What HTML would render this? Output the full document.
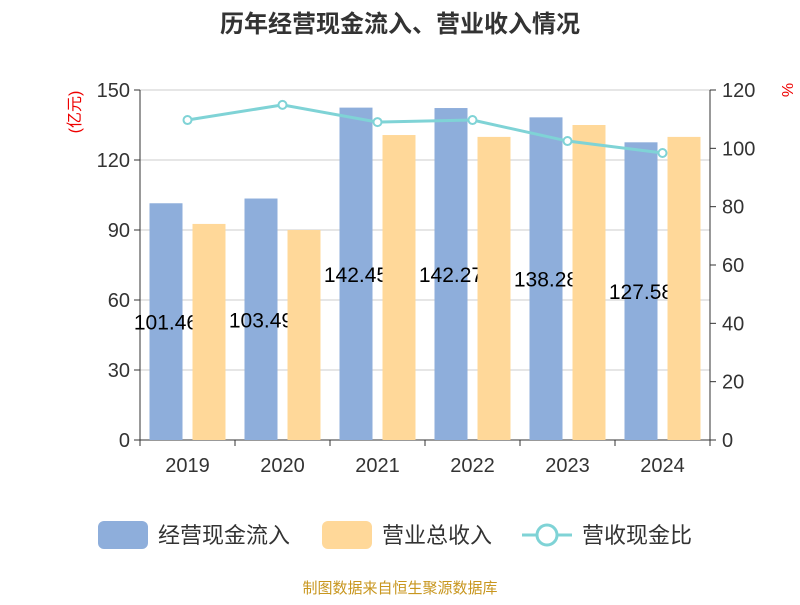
<!DOCTYPE html>
<html><head><meta charset="utf-8"><style>
body{margin:0;background:#fff;}
svg{font-family:"Liberation Sans","Noto Sans CJK SC",sans-serif;}
</style></head><body>
<svg id="chart" width="800" height="600"></svg>
<script>
const categories=["2019","2020","2021","2022","2023","2024"];
const cashIn=[101.46,103.49,142.45,142.27,138.28,127.58];
const revenue=[92.6,90.0,130.7,129.9,135.0,129.9];
const ratio=[109.7,114.9,109.0,109.7,102.5,98.4];
const leftTicks=[0,30,60,90,120,150];
const rightTicks=[0,20,40,60,80,100,120];
const NS="http://www.w3.org/2000/svg";
const svg=document.getElementById('chart');
const L=140,R=710,T=90,B=440;
const yL=v=>B-(v/150)*(B-T);
const yR=v=>B-(v/120)*(B-T);
const band=(R-L)/categories.length;
const xC=i=>L+band*(i+0.5);
function mk(tag,attrs,text){const e=document.createElementNS(NS,tag);for(const k in attrs)e.setAttribute(k,attrs[k]);if(text!==undefined)e.textContent=text;svg.appendChild(e);return e;}
let e;
e=mk('text',{x:400,y:32,'text-anchor':'middle','font-size':24,'font-weight':'bold',fill:'#333'},'历年经营现金流入、营业收入情况');


leftTicks.forEach(t=>{
 e=mk('line',{x1:L,x2:R,y1:yL(t),y2:yL(t),stroke:t===0?'#333':'#ccc','stroke-width':1});
 
 
 e=mk('line',{x1:L-6,x2:L,y1:yL(t),y2:yL(t),stroke:'#333'});
 
 
 e=mk('text',{x:L-10,y:yL(t)+7,'text-anchor':'end','font-size':20,fill:'#333'},t);
 
 
});
rightTicks.forEach(t=>{
 e=mk('line',{x1:R,x2:R+6,y1:yR(t),y2:yR(t),stroke:'#333'});
 
 
 e=mk('text',{x:R+12,y:yR(t)+7,'font-size':20,fill:'#333'},t);
 
 
});
e=mk('line',{x1:L,x2:L,y1:T,y2:B,stroke:'#333'});


e=mk('line',{x1:R,x2:R,y1:T,y2:B,stroke:'#333'});


e=mk('text',{x:0,y:0,transform:'translate(80,112) rotate(-90)','text-anchor':'middle','font-size':16,fill:'#e00'},'(亿元)');


e=mk('text',{x:0,y:0,transform:'translate(782,90) rotate(90)','text-anchor':'middle','font-size':16,fill:'#e00'},'%');


for(let i=0;i<=categories.length;i++){
 e=mk('line',{x1:L+band*i,x2:L+band*i,y1:B,y2:B+6,stroke:'#333'});
 
 
}
categories.forEach((c,i)=>{
 e=mk('text',{x:xC(i),y:472,'text-anchor':'middle','font-size':20,fill:'#333'},c);
 
 
});
const bw=33;
categories.forEach((c,i)=>{
 e=mk('rect',{x:xC(i)-bw-5,y:yL(cashIn[i]),width:bw,height:B-yL(cashIn[i]),fill:'#8eaedb'});
 
 
});
categories.forEach((c,i)=>{
 e=mk('text',{x:xC(i)-bw/2-5,y:(yL(cashIn[i])+B)/2+8,'text-anchor':'middle','font-size':21,fill:'#000'},cashIn[i].toFixed(2));
 
 
});
categories.forEach((c,i)=>{
 e=mk('rect',{x:xC(i)+5,y:yL(revenue[i]),width:bw,height:B-yL(revenue[i]),fill:'#ffd899'});
 
 
});
e=mk('polyline',{points:ratio.map((v,i)=>xC(i)+','+yR(v)).join(' '),fill:'none',stroke:'#7fd3d6','stroke-width':3});


ratio.forEach((v,i)=>{
 e=mk('circle',{cx:xC(i),cy:yR(v),r:4,fill:'#fff',stroke:'#7fd3d6','stroke-width':2});
 
 
});
// legend
e=mk('rect',{x:98,y:521,width:50,height:28,rx:6,fill:'#8eaedb'});


e=mk('text',{x:158,y:543,'font-size':22,fill:'#333'},'经营现金流入');


e=mk('rect',{x:322,y:521,width:50,height:28,rx:6,fill:'#ffd899'});


e=mk('text',{x:382,y:543,'font-size':22,fill:'#333'},'营业总收入');


e=mk('line',{x1:522,x2:572,y1:535,y2:535,stroke:'#7fd3d6','stroke-width':3});


e=mk('circle',{cx:547,cy:535,r:10,fill:'#fff',stroke:'#7fd3d6','stroke-width':3});


e=mk('text',{x:582,y:543,'font-size':22,fill:'#333'},'营收现金比');


e=mk('text',{x:400,y:593,'text-anchor':'middle','font-size':15,fill:'#c8961e'},'制图数据来自恒生聚源数据库');


</script>
</body></html>
